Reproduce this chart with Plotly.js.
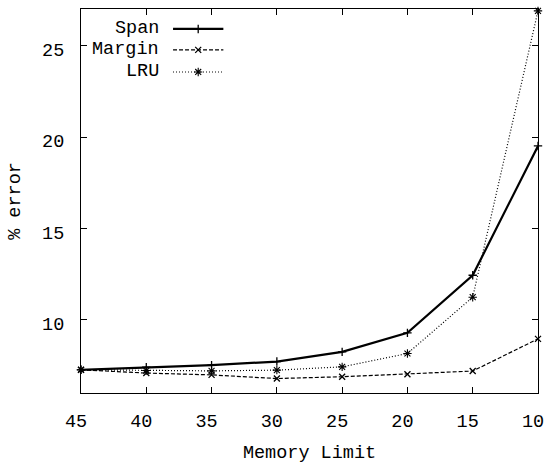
<!DOCTYPE html>
<html>
<head>
<meta charset="utf-8">
<script src="https://cdn.plot.ly/plotly-3.0.1.min.js"></script>
<style>html,body{margin:0;padding:0;background:#fff;}#chart{width:554px;height:466px;}</style>
</head>
<body>
<div id="chart"></div>
<script>
// Data
var memoryLimit = [45, 40, 35, 30, 25, 20, 15, 10];
var spanErr   = [7.27, 7.41, 7.52, 7.72, 8.25, 9.29, 12.44, 19.51];
var marginErr = [7.27, 7.09, 6.99, 6.79, 6.89, 7.03, 7.20, 8.96];
var lruErr    = [7.27, 7.23, 7.21, 7.25, 7.43, 8.16, 11.24, 26.9];
var seriesNames = ["Span", "Margin", "LRU"];
var xTicks = [45, 40, 35, 30, 25, 20, 15, 10];
var yTicks = [10, 15, 20, 25];

var FONT = "Liberation Mono, Courier New, monospace";
var FS = 18.5;
var styles = [
  {line: {color: "#000", width: 2.2, dash: "solid"}, marker: {symbol: "cross-thin", size: 6, color: "#000", line: {color: "#000", width: 1.3}}},
  {line: {color: "#000", width: 1.2, dash: "4px,2px"}, marker: {symbol: "x-thin", size: 6, color: "#000", line: {color: "#000", width: 1.3}}},
  {line: {color: "#000", width: 1.2, dash: "1px,2px"}, marker: {symbol: "asterisk", size: 7, color: "#000", line: {color: "#000", width: 1.1}}}
];
var values = [spanErr, marginErr, lruErr];

var traces = [];
for (var i = 0; i < 3; i++) {
  traces.push({
    x: memoryLimit, y: values[i], name: seriesNames[i], type: "scatter", mode: "lines+markers",
    line: styles[i].line, marker: styles[i].marker, cliponaxis: false, showlegend: false
  });
}
// Custom legend (text left of sample, as in the reference)
var legX0 = 0.2014, legX1 = 0.3115, legRows = [0.948, 0.8935, 0.836], legTextX = 0.174;
var annotations = [];
for (var j = 0; j < 3; j++) {
  traces.push({
    x: [legX0, legX1], y: [legRows[j], legRows[j]], xaxis: "x2", yaxis: "y2", type: "scatter", mode: "lines",
    line: styles[j].line, showlegend: false, hoverinfo: "skip"
  });
  traces.push({
    x: [(legX0 + legX1) / 2], y: [legRows[j]], xaxis: "x2", yaxis: "y2", type: "scatter", mode: "markers",
    marker: styles[j].marker, showlegend: false, hoverinfo: "skip"
  });
  annotations.push({
    xref: "paper", yref: "paper", x: legTextX, y: legRows[j], xanchor: "right", yanchor: "middle",
    text: seriesNames[j], showarrow: false, font: {family: FONT, size: FS, color: "#000"}
  });
}

var axisCommon = {
  showline: true, mirror: "ticks", linecolor: "#000", linewidth: 1,
  ticks: "inside", ticklen: 6, tickwidth: 1, tickcolor: "#000",
  showgrid: false, zeroline: false,
  tickfont: {family: FONT, size: FS, color: "#000"}
};

var layout = {
  width: 554, height: 466,
  margin: {l: 81, r: 16, t: 9, b: 73, pad: 0},
  paper_bgcolor: "#fff", plot_bgcolor: "#fff",
  showlegend: false,
  xaxis: Object.assign({}, axisCommon, {
    range: [45, 10], tickmode: "array", tickvals: xTicks, ticktext: xTicks.map(String),
    ticklabelstandoff: 11, ticklabelshift: 5,
    title: {text: "Memory Limit", font: {family: FONT, size: FS, color: "#000"}, standoff: 12}
  }),
  yaxis: Object.assign({}, axisCommon, {
    range: [6, 27], tickmode: "array", tickvals: yTicks, ticktext: yTicks.map(String),
    ticklabelstandoff: 12, ticklabelshift: 4,
    title: {text: "% error", font: {family: FONT, size: FS, color: "#000"}, standoff: 16}
  }),
  xaxis2: {overlaying: "x", anchor: "y2", range: [0, 1], visible: false, fixedrange: true},
  yaxis2: {overlaying: "y", anchor: "x2", range: [0, 1], visible: false, fixedrange: true},
  annotations: annotations
};

Plotly.newPlot("chart", traces, layout, {staticPlot: true, displayModeBar: false});
</script>
</body>
</html>
